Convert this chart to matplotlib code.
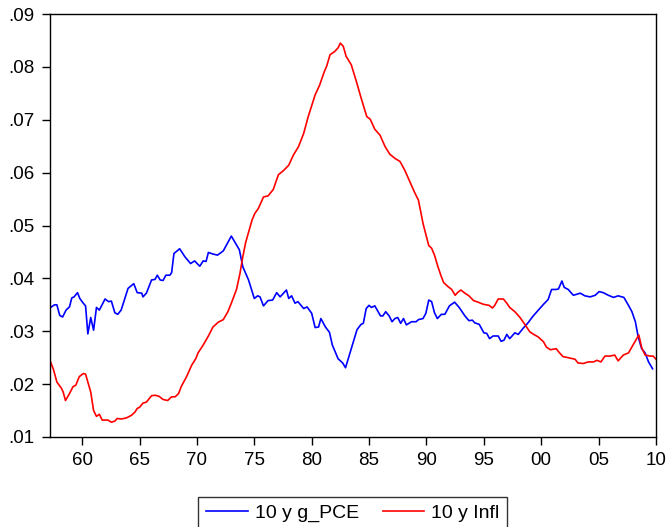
import matplotlib.pyplot as plt
from matplotlib.ticker import FuncFormatter

plt.rcParams['font.family'] = ['Liberation Sans', 'DejaVu Sans']

# 10 y g_PCE (blue)
pce_year = [1957.25, 1957.6, 1957.8, 1958.05, 1958.3, 1958.6, 1958.9, 1959.1, 1959.3, 1959.6,
            1959.8, 1960.1, 1960.3, 1960.5, 1960.75, 1961.0, 1961.25, 1961.5, 1962.0, 1962.3,
            1962.55, 1962.85, 1963.1, 1963.4, 1964.0, 1964.5, 1964.8, 1965.2, 1965.3, 1965.6,
            1966.05, 1966.35, 1966.55, 1966.8, 1967.05, 1967.3, 1967.65, 1967.8, 1968.0, 1968.5,
            1968.95, 1969.45, 1969.8, 1970.25, 1970.55, 1970.8, 1971.0, 1971.4, 1971.8, 1972.3,
            1973.0, 1973.7, 1974.0, 1974.5, 1975.0, 1975.3, 1975.5, 1975.8, 1976.2, 1976.6,
            1976.95, 1977.25, 1977.8, 1978.0, 1978.25, 1978.55, 1978.8, 1979.3, 1979.6, 1980.0,
            1980.3, 1980.6, 1980.8, 1981.2, 1981.55, 1981.8, 1982.3, 1982.7, 1982.95, 1983.45,
            1983.95, 1984.3, 1984.5, 1984.75, 1985.0, 1985.2, 1985.5, 1986.0, 1986.2, 1986.45,
            1986.75, 1987.0, 1987.25, 1987.5, 1987.75, 1988.0, 1988.25, 1988.7, 1989.1, 1989.3,
            1989.7, 1989.95, 1990.2, 1990.45, 1990.7, 1990.95, 1991.3, 1991.6, 1992.0, 1992.45,
            1992.85, 1993.35, 1993.7, 1994.0, 1994.2, 1994.6, 1994.8, 1995.0, 1995.25, 1995.5,
            1995.8, 1996.25, 1996.5, 1996.75, 1997.0, 1997.25, 1997.7, 1998.0, 1998.4, 1998.85,
            1999.3, 1999.75, 2000.2, 2000.6, 2000.9, 2001.3, 2001.5, 2001.8, 2002.0, 2002.35,
            2002.8, 2003.4, 2003.8, 2004.25, 2004.7, 2005.05, 2005.4, 2005.85, 2006.3, 2006.7,
            2007.2, 2007.6, 2007.9, 2008.2, 2008.45, 2008.75, 2009.05, 2009.35, 2009.7]
pce_val = [.0345, .035, .035, .033, .0327, .034, .0346, .0363, .0365, .0373,
           .0362, .0353, .0348, .0295, .0326, .0302, .0345, .034, .0361, .0356,
           .0357, .0335, .0332, .034, .0381, .039, .0373, .0372, .0365, .0372,
           .0397, .0398, .0406, .0397, .0396, .0406, .0406, .0411, .0447, .0456,
           .0441, .0428, .0433, .0423, .0433, .0432, .0449, .0446, .0444, .0452,
           .048, .0454, .0422, .0397, .0362, .0367, .0365, .0348, .0358, .0359,
           .0373, .0365, .0378, .0362, .0367, .0353, .0356, .0343, .0346, .0334,
           .0307, .0308, .0324, .0308, .0298, .0274, .0248, .024, .0231, .0267,
           .0303, .0313, .0315, .0343, .0349, .0345, .0348, .0329, .0329, .0337,
           .0329, .0318, .0324, .0326, .0315, .0324, .0312, .0318, .0318, .0322,
           .0324, .0334, .0359, .0356, .0335, .0324, .0332, .0332, .0348, .0355,
           .0345, .0329, .032, .0321, .0316, .0313, .0305, .0297, .0296, .0286,
           .0291, .0291, .0281, .0283, .0294, .0286, .0297, .0294, .0305, .0316,
           .0329, .034, .0351, .036, .0379, .0379, .038, .0395, .0383, .0379,
           .0368, .0372, .0367, .0365, .0368, .0375, .0373, .0368, .0364, .0367,
           .0364, .0349, .0337, .0318, .0289, .0267, .0259, .0242, .0229]

# 10 y Infl (red)
infl_year = [1957.25, 1957.5, 1957.8, 1958.2, 1958.35, 1958.55, 1958.9, 1959.2, 1959.45, 1959.75,
             1960.1, 1960.3, 1960.5, 1960.75, 1961.0, 1961.25, 1961.5, 1961.75, 1962.25, 1962.55,
             1962.85, 1963.05, 1963.4, 1963.85, 1964.3, 1964.6, 1964.8, 1965.0, 1965.3, 1965.6,
             1966.05, 1966.35, 1966.7, 1967.05, 1967.45, 1967.8, 1968.1, 1968.4, 1968.65, 1969.1,
             1969.55, 1969.9, 1970.1, 1970.55, 1971.0, 1971.4, 1971.85, 1972.3, 1972.7, 1973.0,
             1973.45, 1973.75, 1974.0, 1974.25, 1974.5, 1974.8, 1975.05, 1975.35, 1975.8, 1976.2,
             1976.65, 1977.1, 1977.55, 1978.0, 1978.4, 1978.85, 1979.3, 1979.7, 1980.3, 1980.7,
             1981.1, 1981.3, 1981.6, 1982.0, 1982.3, 1982.5, 1982.75, 1983.0, 1983.45, 1983.9,
             1984.35, 1984.8, 1985.1, 1985.5, 1985.95, 1986.4, 1986.8, 1987.25, 1987.7, 1988.1,
             1988.55, 1989.0, 1989.3, 1989.7, 1990.2, 1990.45, 1990.7, 1991.0, 1991.3, 1991.5,
             1991.9, 1992.2, 1992.5, 1992.7, 1993.0, 1993.35, 1993.7, 1994.1, 1994.5, 1994.95,
             1995.45, 1995.75, 1995.95, 1996.25, 1996.7, 1997.0, 1997.25, 1997.7, 1998.15, 1998.6,
             1999.0, 1999.35, 1999.75, 2000.2, 2000.45, 2000.8, 2001.3, 2001.6, 2001.9, 2002.35,
             2002.95, 2003.2, 2003.65, 2004.1, 2004.55, 2004.85, 2005.2, 2005.55, 2006.0, 2006.4,
             2006.7, 2007.15, 2007.6, 2008.0, 2008.5, 2008.75, 2009.05, 2009.5, 2009.75, 2010.0]
infl_val = [.0242, .0228, .0204, .0192, .0185, .0169, .0182, .0195, .0198, .0214,
            .022, .0219, .0204, .0185, .015, .0139, .0143, .0132, .0132, .0128,
            .013, .0135, .0134, .0136, .0141, .0147, .0154, .0156, .0164, .0166,
            .0178, .0179, .0177, .0171, .0169, .0176, .0176, .0182, .0196, .0214,
            .0236, .0248, .0259, .0274, .0291, .0308, .0317, .0322, .0337, .0353,
            .0379, .0409, .0441, .0468, .0487, .051, .0523, .0532, .0554, .0556,
            .0568, .0596, .0604, .0614, .0633, .0649, .0674, .0706, .0747, .0766,
            .0791, .0801, .0823, .0829, .0836, .0845, .0839, .082, .0804, .0772,
            .0738, .0706, .0701, .0682, .0671, .0649, .0635, .0627, .0621, .0605,
            .0583, .0561, .0548, .0504, .0462, .0457, .0444, .0422, .0403, .0392,
            .0384, .0379, .0368, .0373, .0378, .0372, .0367, .0358, .0355, .0351,
            .0349, .0344, .0349, .0361, .0361, .0353, .0345, .0337, .0326, .0312,
            .0299, .0294, .0289, .028, .027, .0265, .0267, .0259, .0252, .025,
            .0247, .024, .0239, .0242, .0242, .0245, .0242, .0253, .0253, .0255,
            .0244, .0255, .0259, .0274, .0293, .0269, .0255, .0253, .0253, .0247]

x_ticks = list(range(1960, 2011, 5))
x_labels = ['%02d' % (y % 100) for y in x_ticks]
y_ticks = [.01, .02, .03, .04, .05, .06, .07, .08, .09]

fig = plt.figure(figsize=(6.69, 5.27), dpi=100)
ax = fig.add_axes([0.0747, 0.1708, 0.9059, 0.8026])

ax.plot(pce_year, pce_val, color='#0000FF', lw=1.2, label='10 y g_PCE')
ax.plot(infl_year, infl_val, color='#FF0000', lw=1.2, label='10 y Infl')

ax.set_xlim(1957.2, 2010.0)
ax.set_ylim(0.01, 0.09)
ax.set_xticks(x_ticks)
ax.set_xticklabels(x_labels)
ax.set_yticks(y_ticks)
ax.yaxis.set_major_formatter(FuncFormatter(lambda v, p: ('%.2f' % v)[1:]))
ax.tick_params(axis='both', direction='out', length=6, width=1, colors='black')
ax.tick_params(axis='x', labelsize=13.5, pad=5)
ax.tick_params(axis='y', labelsize=13.5, pad=5)
ax.tick_params(top=False, right=False)
for s in ax.spines.values():
    s.set_linewidth(1)
    s.set_color('black')

leg = fig.legend(loc='lower center', bbox_to_anchor=(0.5275, -0.024), ncol=2, fontsize=14,
                 frameon=True, fancybox=False, edgecolor='black', handlelength=2.15,
                 columnspacing=1.2, handletextpad=0.36, borderpad=0.4)
leg.get_frame().set_linewidth(1)

fig.savefig('out.png', dpi=100)
